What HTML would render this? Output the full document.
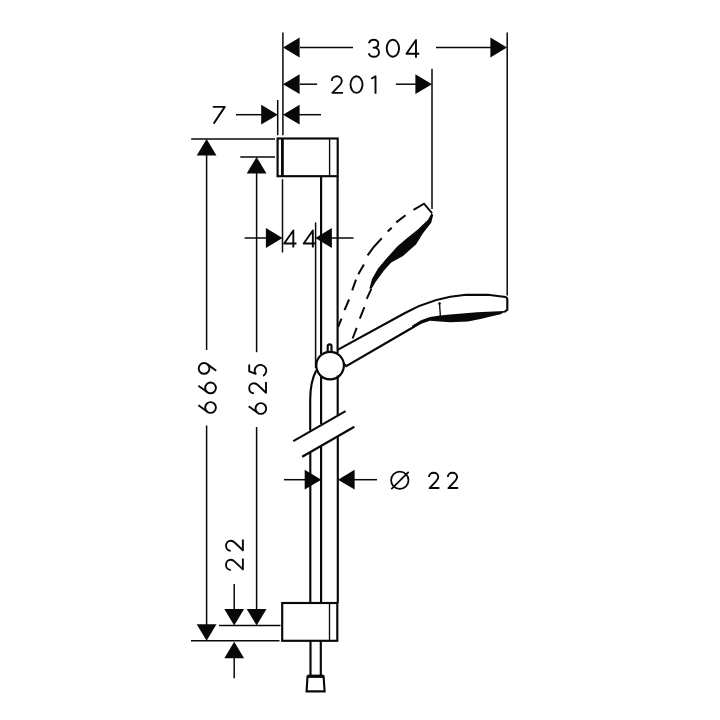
<!DOCTYPE html>
<html><head><meta charset="utf-8"><style>
html,body{margin:0;padding:0;background:#fff;}
svg{display:block;}
text{font-family:"Liberation Sans",sans-serif;fill:#1a1a1a;}
</style></head><body>
<svg width="720" height="720" viewBox="0 0 720 720">
<rect width="720" height="720" fill="#fff"/>
<g stroke="#080808" stroke-width="1.5" fill="none" stroke-linecap="butt">
<line x1="282.9" y1="32.5" x2="282.9" y2="135.2"/>
<line x1="507.2" y1="32.5" x2="507.2" y2="295.5"/>
<line x1="300.0" y1="47.5" x2="353.0" y2="47.5"/>
<line x1="436.0" y1="47.5" x2="491.0" y2="47.5"/>
<line x1="432.0" y1="68.7" x2="432.0" y2="209.0"/>
<line x1="300.0" y1="84.2" x2="317.2" y2="84.2"/>
<line x1="395.8" y1="84.2" x2="416.0" y2="84.2"/>
<line x1="277.7" y1="100.0" x2="277.7" y2="135.2"/>
<line x1="236.0" y1="114.7" x2="262.0" y2="114.7"/>
<line x1="299.0" y1="114.7" x2="321.0" y2="114.7"/>
<line x1="191.2" y1="138.9" x2="275.0" y2="138.9"/>
<line x1="206.6" y1="150.0" x2="206.6" y2="350.0"/>
<line x1="206.6" y1="425.5" x2="206.6" y2="630.0"/>
<line x1="191.0" y1="640.8" x2="279.5" y2="640.8"/>
<line x1="240.3" y1="157.0" x2="275.0" y2="157.0"/>
<line x1="256.6" y1="170.0" x2="256.6" y2="352.2"/>
<line x1="256.6" y1="427.0" x2="256.6" y2="615.0"/>
<line x1="219.0" y1="625.6" x2="280.5" y2="625.6"/>
<line x1="234.2" y1="584.0" x2="234.2" y2="612.0"/>
<line x1="234.2" y1="655.0" x2="234.2" y2="678.3"/>
<line x1="282.5" y1="179.2" x2="282.5" y2="252.5"/>
<line x1="315.6" y1="222.5" x2="315.6" y2="368.0"/>
<line x1="244.6" y1="238.0" x2="268.0" y2="238.0"/>
<line x1="331.0" y1="238.0" x2="353.5" y2="238.0"/>
<line x1="283.9" y1="479.7" x2="306.0" y2="479.7"/>
<line x1="353.0" y1="479.7" x2="377.0" y2="479.7"/>
</g>
<g fill="#080808" stroke="none">
<polygon points="283.0,47.5 299.6,37.6 299.6,57.4"/>
<polygon points="507.0,47.5 490.4,37.6 490.4,57.4"/>
<polygon points="283.0,84.2 299.6,74.3 299.6,94.1"/>
<polygon points="432.0,84.2 415.4,74.3 415.4,94.1"/>
<polygon points="277.8,114.7 261.2,104.8 261.2,124.6"/>
<polygon points="283.0,114.7 299.6,104.8 299.6,124.6"/>
<polygon points="206.6,138.9 196.7,155.5 216.5,155.5"/>
<polygon points="206.6,640.8 196.7,624.2 216.5,624.2"/>
<polygon points="256.6,157.0 246.7,173.6 266.5,173.6"/>
<polygon points="256.6,625.6 246.7,609.0 266.5,609.0"/>
<polygon points="234.2,625.6 224.3,609.0 244.1,609.0"/>
<polygon points="234.2,641.7 224.3,658.3 244.1,658.3"/>
<polygon points="282.5,238.0 265.9,228.1 265.9,247.9"/>
<polygon points="315.3,238.0 331.9,228.1 331.9,247.9"/>
<polygon points="321.3,479.7 304.7,469.8 304.7,489.6"/>
<polygon points="338.0,479.7 354.6,469.8 354.6,489.6"/>
</g>
<g stroke="#080808" stroke-width="2.15" fill="none" stroke-linejoin="miter">
<rect x="277.6" y="138.5" width="60.1" height="37.7"/>
<line x1="282.4" y1="138" x2="282.4" y2="176.5" stroke-width="2.8"/>
<line x1="321.1" y1="176.5" x2="321.1" y2="354.0"/>
<line x1="337.6" y1="176.5" x2="337.6" y2="353.0"/>
<circle cx="330.1" cy="365.6" r="13.8" stroke-width="2.2"/>
<path d="M327.7,352.5 V346.3 A1.9,1.9 0 0 1 331.5,346.3 V352.5"/>
<path d="M338.1,349.6 L405,313 C425,302 448,296 466,294.8 L488,294.8 L505.5,297 Q507.3,297.6 507.3,299.5 L507.3,309.8 L504.2,312.1"/>
<path d="M343.6,363.6 L346.2,366.1 L411.4,328.3 Q418,324 424,321"/>
<path d="M316.2,370.6 Q310.2,382 310.2,400 L310.2,430.5"/>
<line x1="321.1" y1="376.5" x2="321.1" y2="424.0"/>
<line x1="337.7" y1="375.5" x2="337.7" y2="415.0"/>
<line x1="293.3" y1="441.1" x2="345.6" y2="411.1"/>
<line x1="302.2" y1="456.7" x2="354.4" y2="426.7"/>
<line x1="310.3" y1="453.0" x2="310.3" y2="603.0"/>
<line x1="321.1" y1="446.5" x2="321.1" y2="603.0"/>
<line x1="337.8" y1="436.5" x2="337.8" y2="603.0"/>
<rect x="282.2" y="603" width="55.1" height="37.8"/>
<line x1="310.5" y1="640.8" x2="310.5" y2="675.0"/>
<line x1="320.8" y1="640.8" x2="320.8" y2="675.0"/>
<path d="M307.5,676.5 L323.6,676.5 L324.6,691.3 L306.6,691.3 Z"/>
<line x1="307.5" y1="676.2" x2="323.6" y2="676.2" stroke-width="3.2"/>
</g>
<g stroke="#080808" stroke-width="1.35" fill="none">
<line x1="329.6" y1="138.5" x2="329.6" y2="176.5"/>
<line x1="329.5" y1="603.0" x2="329.5" y2="640.4"/>
<line x1="439.5" y1="303.5" x2="440.4" y2="316.0"/>
</g>
<g fill="#080808" stroke="none">
<path d="M504.6,311.0 L477,312.3 L450,314.6 L440,315.6 L430,317.0 L421,320.2 L412,325.8 L412.8,328.2 L421,323.8 L430,320.8 L440,321.6 L450,322.2 L468,321.6 L481.6,318.8 L490.6,316.4 L500.5,314.2 L505.6,311.6 Z"/>
<path d="M431.6,213.0 L428.2,219.6 L417.8,229.4 L406.6,238.6 L397.2,246.6 L386.0,259.0 L378.0,268.4 L372.0,279.0 L369.4,288.5 L371.6,288.8 L375.4,282.2 L384.0,270.6 L391.2,262.6 L403.0,256.0 L416.2,244.2 L422.8,233.6 L431.2,222.8 L433.2,215.0 Z"/>
<circle cx="439.5" cy="303.5" r="1.3"/>
</g>
<g stroke="#080808" stroke-width="2" fill="none" stroke-linecap="butt">
<path d="M432,213.2 L424,203.7 L413.5,209.9"/>
<line x1="405.5" y1="215.2" x2="396.3" y2="222.4"/>
<line x1="391.7" y1="227.7" x2="387.7" y2="231.4"/>
<path d="M381.8,238.3 Q373,247 367.6,255.4"/>
<line x1="363.9" y1="264.4" x2="358.3" y2="274.3"/>
<line x1="356.0" y1="279.7" x2="352.2" y2="290.4"/>
<line x1="349.1" y1="299.5" x2="344.5" y2="310.2"/>
<line x1="341.5" y1="318.6" x2="338.1" y2="327.0"/>
<line x1="371.3" y1="288.8" x2="366.7" y2="298.8"/>
<line x1="364.4" y1="307.2" x2="359.8" y2="318.6"/>
<line x1="356.7" y1="327.8" x2="352.6" y2="338.5"/>
</g>
<g stroke="#080808" stroke-width="1.75" fill="none" stroke-linecap="butt" stroke-linejoin="round">
<g transform="translate(368.00 38.80) scale(1.0272)" stroke-width="1.850"><path d="M0.9,4.3 C1.5,2.2 3.4,0.9 5.7,0.9 C8.2,0.9 10.0,2.5 10.0,4.7 C10.0,7.0 8.2,8.6 5.4,8.6 C8.6,8.6 10.7,10.5 10.7,13.0 C10.7,15.7 8.5,17.5 5.8,17.5 C3.3,17.5 1.3,16.1 0.7,14.0"/></g>
<g transform="translate(385.80 38.80) scale(1.0272)" stroke-width="1.850"><ellipse cx="6.9" cy="9.2" rx="6.0" ry="8.3"/></g>
<g transform="translate(405.50 38.80) scale(1.0272)" stroke-width="1.850"><path d="M10.2,18.4 L10.2,1.2 L0.9,14.5 L13.4,14.5"/></g>
<g transform="translate(330.80 75.40) scale(1.0000)" stroke-width="1.900"><path d="M1.0,5.6 C1.0,2.7 3.3,0.9 6.0,0.9 C8.9,0.9 11.0,2.9 11.0,5.6 C11.0,7.2 10.2,8.4 9.0,9.7 L1.6,17.5 L12.2,17.5"/></g>
<g transform="translate(349.60 75.40) scale(1.0000)" stroke-width="1.900"><ellipse cx="6.9" cy="9.2" rx="6.0" ry="8.3"/></g>
<g transform="translate(370.40 75.40) scale(1.0000)" stroke-width="1.900"><path d="M0.9,3.4 L5.1,0.9 L5.1,18.4"/></g>
<g transform="translate(212.50 106.00) scale(0.9783)" stroke-width="1.942"><path d="M0.3,0.9 L12.6,0.9 L1.2,18.0"/></g>
<g transform="translate(283.30 229.30) scale(0.9837)" stroke-width="1.931"><path d="M10.2,18.4 L10.2,1.2 L0.9,14.5 L13.4,14.5"/></g>
<g transform="translate(302.80 229.30) scale(0.9837)" stroke-width="1.931"><path d="M10.2,18.4 L10.2,1.2 L0.9,14.5 L13.4,14.5"/></g>
<g transform="translate(428.10 471.90) scale(0.9239)" stroke-width="2.056"><path d="M1.0,5.6 C1.0,2.7 3.3,0.9 6.0,0.9 C8.9,0.9 11.0,2.9 11.0,5.6 C11.0,7.2 10.2,8.4 9.0,9.7 L1.6,17.5 L12.2,17.5"/></g>
<g transform="translate(446.90 471.90) scale(0.9239)" stroke-width="2.056"><path d="M1.0,5.6 C1.0,2.7 3.3,0.9 6.0,0.9 C8.9,0.9 11.0,2.9 11.0,5.6 C11.0,7.2 10.2,8.4 9.0,9.7 L1.6,17.5 L12.2,17.5"/></g>
<circle cx="399.8" cy="480.3" r="8.7"/><line x1="391.3" y1="489.2" x2="408.7" y2="471.9"/>
<g transform="translate(198.00 413.80) rotate(-90) scale(1.0109)" stroke-width="1.880"><path d="M8.4,0.4 L1.95,9.3"/><circle cx="6.2" cy="12.4" r="5.3"/></g>
<g transform="translate(198.00 394.20) rotate(-90) scale(1.0109)" stroke-width="1.880"><path d="M8.4,0.4 L1.95,9.3"/><circle cx="6.2" cy="12.4" r="5.3"/></g>
<g transform="translate(198.00 374.70) rotate(-90) scale(1.0109)" stroke-width="1.880"><path d="M4.0,18.0 L10.45,9.1"/><circle cx="6.2" cy="6.0" r="5.3"/></g>
<g transform="translate(248.30 414.80) rotate(-90) scale(1.0109)" stroke-width="1.880"><path d="M8.4,0.4 L1.95,9.3"/><circle cx="6.2" cy="12.4" r="5.3"/></g>
<g transform="translate(248.30 394.40) rotate(-90) scale(1.0109)" stroke-width="1.880"><path d="M1.0,5.6 C1.0,2.7 3.3,0.9 6.0,0.9 C8.9,0.9 11.0,2.9 11.0,5.6 C11.0,7.2 10.2,8.4 9.0,9.7 L1.6,17.5 L12.2,17.5"/></g>
<g transform="translate(248.30 376.80) rotate(-90) scale(1.0109)" stroke-width="1.880"><path d="M12.2,0.9 L5.3,0.9 L2.9,7.3 A5.7,5.7 0 1 1 1.0,14.6"/></g>
<g transform="translate(225.10 571.00) rotate(-90) scale(1.0163)" stroke-width="1.870"><path d="M1.0,5.6 C1.0,2.7 3.3,0.9 6.0,0.9 C8.9,0.9 11.0,2.9 11.0,5.6 C11.0,7.2 10.2,8.4 9.0,9.7 L1.6,17.5 L12.2,17.5"/></g>
<g transform="translate(225.10 551.90) rotate(-90) scale(1.0163)" stroke-width="1.870"><path d="M1.0,5.6 C1.0,2.7 3.3,0.9 6.0,0.9 C8.9,0.9 11.0,2.9 11.0,5.6 C11.0,7.2 10.2,8.4 9.0,9.7 L1.6,17.5 L12.2,17.5"/></g>
</g>
</svg>
</body></html>
